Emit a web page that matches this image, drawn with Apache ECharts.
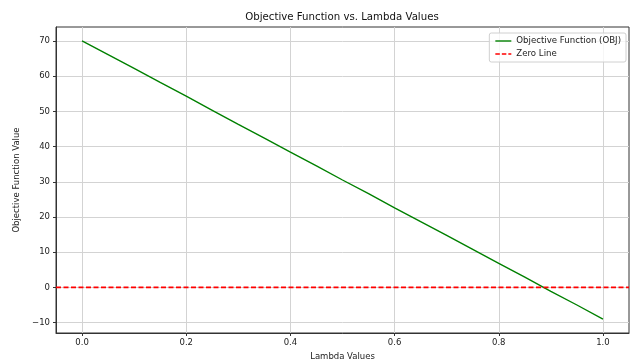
<!DOCTYPE html>
<html>
<head>
<meta charset="utf-8">
<script src="https://cdn.jsdelivr.net/npm/echarts@6/dist/echarts.min.js"></script>
<style>html,body{margin:0;padding:0;background:#fff}#c{width:632px;height:361px}</style>
</head>
<body>
<div id="c"></div>
<script>
const lambdas = [0, 0.05, 0.1, 0.15, 0.2, 0.25, 0.3, 0.35, 0.4, 0.45, 0.5, 0.55, 0.6, 0.65, 0.7, 0.75, 0.8, 0.85, 0.9, 0.95, 1.0];
const objValues = [70, 66.1, 62.2, 58.2, 54.3, 50.3, 46.3, 42.4, 38.4, 34.5, 30.5, 26.6, 22.6, 18.7, 14.8, 10.8, 6.8, 2.9, -1.1, -5.0, -9.0];
const xTicks = [0, 0.2, 0.4, 0.6, 0.8, 1.0];
const yTicks = [-10, 0, 10, 20, 30, 40, 50, 60, 70];
const zeroLine = [[-0.05, 0], [1.05, 0]];

const FONT = 'DejaVu Sans';
const FS = 8.5;
const chart = echarts.init(document.getElementById('c'), null, {renderer: 'canvas'});
chart.setOption({
  animation: false,
  backgroundColor: '#fff',
  textStyle: {fontFamily: FONT},
  title: {
    text: 'Objective Function vs. Lambda Values',
    left: 342, top: 12, textAlign: 'center', padding: 0,
    textStyle: {fontFamily: FONT, fontSize: 10.2, fontWeight: 'normal', color: '#111'}
  },
  grid: {left: 56, right: 3, top: 27, bottom: 28, outerBoundsMode: 'none', containLabel: false,
    show: true, borderColor: '#333', borderWidth: 1, backgroundColor: 'transparent'},
  legend: {
    orient: 'vertical', right: 6, top: 33,
    padding: [3, 5, 3, 6],
    itemWidth: 16, itemHeight: 2, itemGap: 3,
    borderColor: '#d0d0d0', borderWidth: 1, borderRadius: 2,
    backgroundColor: 'rgba(255,255,255,0.8)',
    textStyle: {fontFamily: FONT, fontSize: 8.6, color: '#222', lineHeight: 10},
    data: [
      {name: 'Objective Function (OBJ)', icon: 'path://M0,0h16v1.4h-16z', itemStyle: {color: '#008000'}},
      {name: 'Zero Line', icon: 'path://M0,0h4.5v1.4h-4.5z M6.5,0h4.5v1.4h-4.5z M13,0h3v1.4h-3z', itemStyle: {color: '#ff0000'}}
    ]
  },
  xAxis: {
    type: 'value', min: -0.05, max: 1.05,
    name: 'Lambda Values', nameLocation: 'middle', nameGap: 16,
    nameTextStyle: {fontFamily: FONT, fontSize: FS, color: '#222'},
    axisLine: {show: true, onZero: false, lineStyle: {color: '#333'}},
    axisTick: {show: true, inside: false, length: 3, customValues: xTicks, lineStyle: {color: '#333'}},
    axisLabel: {customValues: xTicks, margin: 5, fontFamily: FONT, fontSize: FS, color: '#222',
      formatter: v => v.toFixed(1)},
    splitLine: {show: true, lineStyle: {color: '#d3d3d3', width: 1}}
  },
  yAxis: {
    type: 'value', min: -12.95, max: 73.95,
    name: 'Objective Function Value', nameLocation: 'middle', nameGap: 27,
    nameTextStyle: {fontFamily: FONT, fontSize: FS, color: '#222'},
    axisLine: {show: true, onZero: false, lineStyle: {color: '#333'}},
    axisTick: {show: true, inside: false, length: 3, customValues: yTicks, lineStyle: {color: '#333'}},
    axisLabel: {customValues: yTicks, margin: 6, fontFamily: FONT, fontSize: FS, color: '#222',
      formatter: v => (v < 0 ? '\u2212' + Math.abs(v) : String(v))},
    splitLine: {show: true, lineStyle: {color: '#d3d3d3', width: 1}}
  },
  series: [
    {
      name: 'Objective Function (OBJ)', type: 'line', symbol: 'none', showSymbol: false,
      data: lambdas.map((x, i) => [x, objValues[i]]),
      lineStyle: {color: '#008000', width: 1.4}, itemStyle: {color: '#008000'}, z: 3
    },
    {
      name: 'Zero Line', type: 'line', symbol: 'none', showSymbol: false,
      data: zeroLine,
      lineStyle: {color: '#ff0000', width: 1.6, type: [5, 2.5]}, itemStyle: {color: '#ff0000'}, z: 4
    }
  ]
});
</script>
</body>
</html>
